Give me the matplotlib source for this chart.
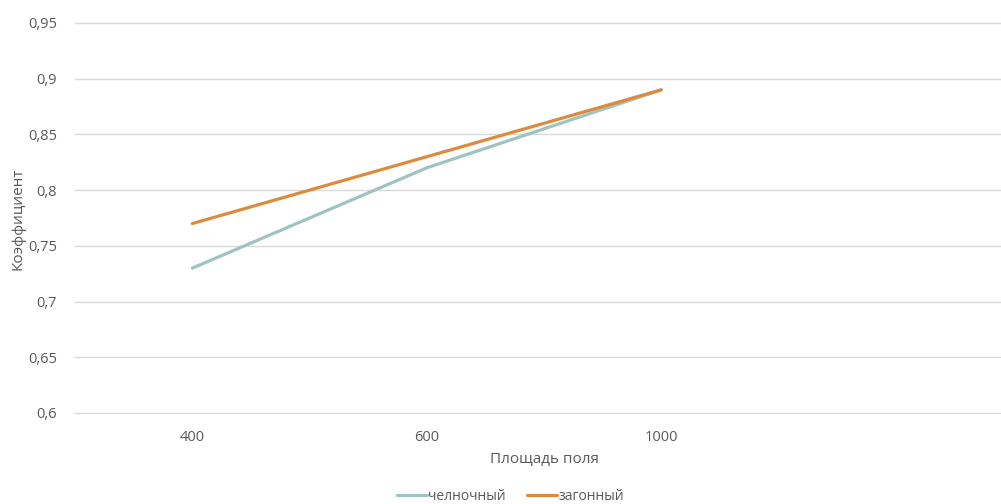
import matplotlib.pyplot as plt

categories = ['400', '600', '1000', '']
shuttle = [0.73, 0.82, 0.89]
pen = [0.77, 0.83, 0.89]
yticks = [0.6, 0.65, 0.7, 0.75, 0.8, 0.85, 0.9, 0.95]

plt.rcParams['font.family'] = ['Open Sans', 'DejaVu Sans']
txt = '#595959'

fig = plt.figure(figsize=(10.01, 5.04), dpi=100)
ax = fig.add_axes([0.075, 0.1806, 0.937, 0.7738])

x = range(len(shuttle))
ax.plot(x, shuttle, color='#9EC4C2', lw=2.3, label='челночный', solid_capstyle='round')
ax.plot(x, pen, color='#DE8A3C', lw=2.3, label='загонный', solid_capstyle='round')

ax.set_xlim(-0.5, len(categories) - 0.5)
ax.set_ylim(0.6, 0.95)
ax.set_yticks(yticks)
ax.set_yticklabels([f'{v:g}'.replace('.', ',') for v in yticks])
ax.set_xticks(range(len(categories)))
ax.set_xticklabels(categories)
ax.grid(axis='y', color='#D9D9D9', lw=1)
for gl in ax.get_ygridlines():
    gl.set_clip_on(False)
ax.set_axisbelow(True)
for s in ax.spines.values():
    s.set_visible(False)
ax.tick_params(length=0, colors=txt, labelsize=10.5)
ax.tick_params(axis='y', pad=13)
ax.tick_params(axis='x', pad=12)

ax.set_xlabel('Площадь поля', color=txt, fontsize=11)
ax.xaxis.set_label_coords(0.5, -0.1)
fig.text(0.018, 0.565, 'Коэффициент', rotation=90, color=txt, fontsize=11,
         ha='center', va='center')

fig.legend(loc='center', bbox_to_anchor=(0.51, 0.015), ncol=2, frameon=False,
           fontsize=10, labelcolor=txt, handlelength=2.2, handletextpad=0.1,
           columnspacing=1.5)

fig.savefig('out.png', dpi=100)
